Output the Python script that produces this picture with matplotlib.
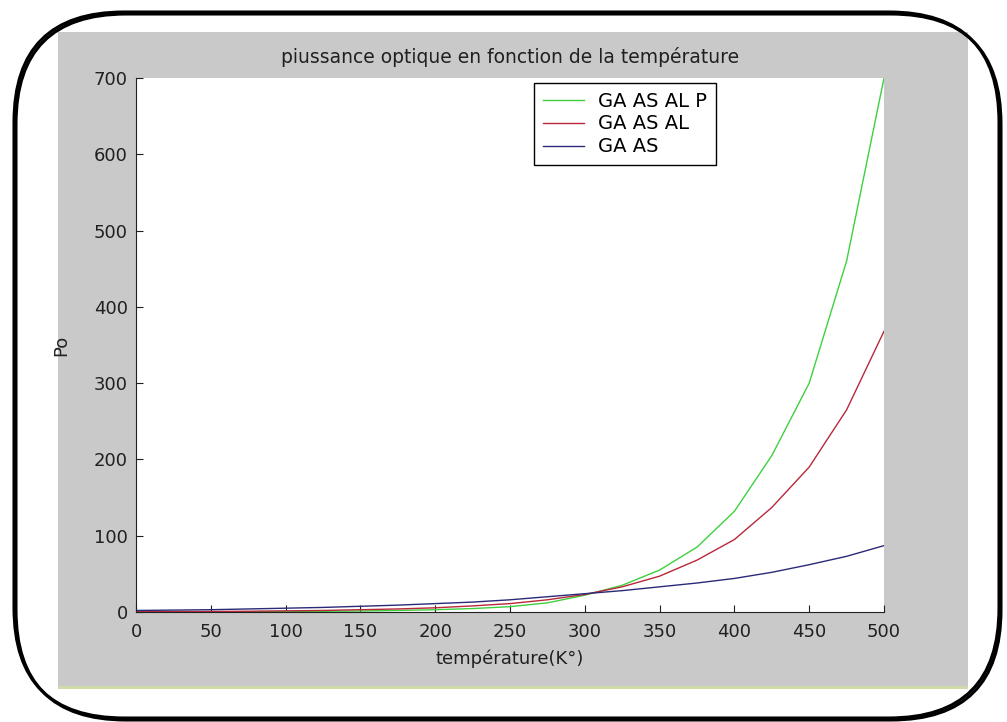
import matplotlib
matplotlib.use("Agg")
import matplotlib.pyplot as plt
from matplotlib.patches import FancyBboxPatch, Rectangle

temperature = [0, 25, 50, 75, 100, 125, 150, 175, 200, 225, 250,
               275, 300, 325, 350, 375, 400, 425, 450, 475, 500]
po_gaasalp = [0.1, 0.15, 0.25, 0.4, 0.6, 0.9, 1.3, 2, 3, 4.5, 7,
              12, 22, 35, 55, 85, 132, 205, 300, 460, 700]
po_gaasal = [0.3, 0.45, 0.7, 1, 1.5, 2, 3, 4, 5.5, 8, 11,
             16, 23, 33, 47, 68, 95, 137, 190, 265, 368]
po_gaas = [2, 2.5, 3, 4, 5, 6, 7.5, 9, 11, 13, 16,
           20, 24, 28, 33, 38, 44, 52, 62, 73, 87]

labels = ["GA AS AL P", "GA AS AL", "GA AS"]
colors = ["#3fd03f", "#b8283a", "#2a2a78"]

W, H = 1007, 722
fig = plt.figure(figsize=(W / 100, H / 100), dpi=100, facecolor="white")

# background layer in pixel coordinates (y down)
bg = fig.add_axes([0, 0, 1, 1], zorder=0)
bg.set_xlim(0, W)
bg.set_ylim(H, 0)
bg.axis("off")

bg.add_patch(Rectangle((58, 32), 910, 656, facecolor="#c9c9c9", edgecolor="none"))
bg.add_patch(Rectangle((58, 686), 910, 2.5, facecolor="#cfdcaa", edgecolor="none"))

# rounded frame with a slight shadow
for off in [2, 0]:
    bg.add_patch(FancyBboxPatch((14 + off, 12 + off), 985, 706,
                                boxstyle="round,pad=0,rounding_size=110",
                                facecolor="none", edgecolor="black", linewidth=2.2))


def fx(px):
    return px / W


def fy(py):
    return 1 - py / H


ax = fig.add_axes([fx(136), fy(612), fx(884) - fx(136), fy(78) - fy(612)], zorder=2)
ax.set_facecolor("white")

for y, lab, c in zip([po_gaasalp, po_gaasal, po_gaas], labels, colors):
    ax.plot(temperature, y, color=c, linewidth=1.0, label=lab)

ax.set_xlim(0, 500)
ax.set_ylim(0, 700)
ax.set_xticks(range(0, 501, 50))
ax.set_yticks(range(0, 701, 100))
ax.spines["top"].set_visible(False)
ax.spines["right"].set_visible(False)
ax.spines["left"].set_color("#202020")
ax.spines["bottom"].set_color("#202020")
ax.tick_params(direction="in", length=5, labelsize=13, colors="#202020")
ax.tick_params(axis="x", pad=8)
ax.tick_params(axis="y", pad=6)

ax.set_title("piussance optique en fonction de la température", fontsize=13.5,
             color="#202020", pad=11)
ax.set_xlabel("température(K°)", fontsize=13, color="#202020", labelpad=6)
ax.set_ylabel("Po", fontsize=13, color="#202020", labelpad=17)

leg = ax.legend(loc="upper left", bbox_to_anchor=(0.532, 0.991), fontsize=14,
                fancybox=False, framealpha=1, edgecolor="black", borderpad=0.45,
                labelspacing=0.2, handlelength=2.1, handletextpad=0.75,
                borderaxespad=0)
leg.get_frame().set_linewidth(1.0)

fig.savefig("out.png", dpi=100, facecolor="white")
